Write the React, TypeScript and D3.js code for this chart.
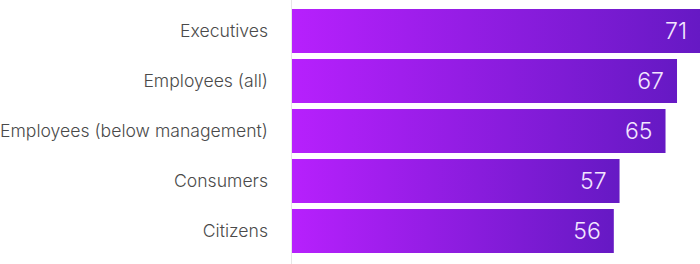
import React from "react";
import * as d3 from "d3";

const categories = [
  "Executives",
  "Employees (all)",
  "Employees (below management)",
  "Consumers",
  "Citizens",
];
const values = [71, 67, 65, 57, 56];

const W = 700;
const H = 264;
const axisX = 292;

export default function App() {
  const x = d3.scaleLinear().domain([0, 71]).range([axisX, 700]);
  const y = d3
    .scaleBand<string>()
    .domain(categories)
    .range([6, 256])
    .paddingInner(0.12)
    .paddingOuter(0.06);

  return (
    <svg
      width={W}
      height={H}
      style={{ position: "absolute", left: 0, top: 0, display: "block" }}
    >
      <defs>
        <linearGradient id="barGrad" x1="0" x2="1" y1="0" y2="0">
          <stop offset="0%" stopColor="#b720fd" />
          <stop offset="100%" stopColor="#6619c4" />
        </linearGradient>
      </defs>
      <rect x={0} y={0} width={W} height={H} fill="#ffffff" />
      <line x1={axisX - 0.5} x2={axisX - 0.5} y1={0} y2={H} stroke="#e6e6e6" strokeWidth={1} />
      {categories.map((c, i) => {
        const y0 = y(c)!;
        const bw = y.bandwidth();
        const xe = x(values[i]);
        return (
          <g key={c}>
            <rect x={axisX} y={y0} width={xe - axisX} height={bw} fill="url(#barGrad)" />
            <text
              x={268}
              y={y0 + bw / 2}
              dy="0.35em"
              textAnchor="end"
              fontFamily="Inter, 'Open Sans', sans-serif"
              fontSize={17.6}
              fontWeight={300}
              fill="#4a4a4a"
            >
              {c}
            </text>
            <text
              x={xe - 13}
              y={y0 + bw / 2}
              dy="0.36em"
              textAnchor="end"
              fontFamily="Inter, 'Open Sans', sans-serif"
              fontSize={23}
              fontWeight={300}
              fill="#f3e6ff"
            >
              {values[i]}
            </text>
          </g>
        );
      })}
    </svg>
  );
}
